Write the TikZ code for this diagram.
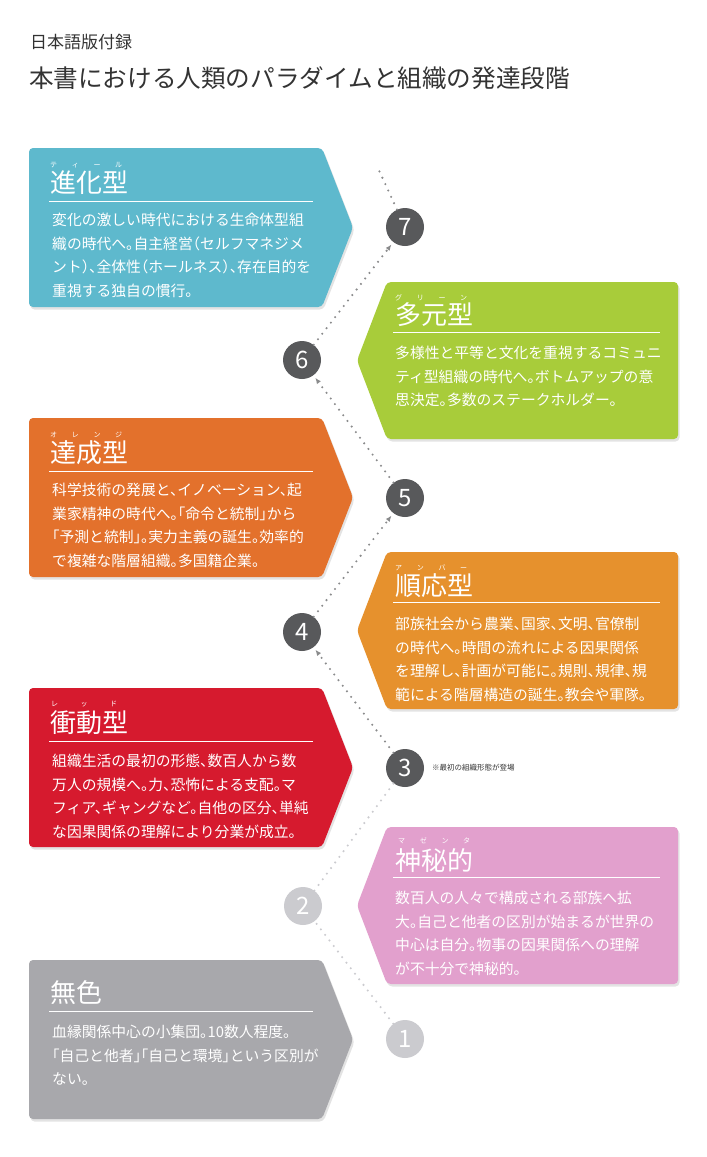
\documentclass[tikz,border=0pt]{standalone}
\usepackage{fontspec}
\setmainfont{Noto Sans CJK JP}
\newfontfamily\bodyfont[RawFeature=+halt]{Noto Sans CJK JP}
\usetikzlibrary{arrows.meta,shadows}

\definecolor{stageteal}{HTML}{5EB9CD}
\definecolor{stagegreen}{HTML}{A8CC3A}
\definecolor{stageorange}{HTML}{E3712C}
\definecolor{stageamber}{HTML}{E6912D}
\definecolor{stagered}{HTML}{D61A2E}
\definecolor{stagepink}{HTML}{E2A0CD}
\definecolor{stagegray}{HTML}{A8A8AC}
\definecolor{numdark}{HTML}{58595B}
\definecolor{numlight}{HTML}{CBCBCF}
\definecolor{inkgray}{HTML}{333333}

\begin{document}
\begin{tikzpicture}[x=1pt, y=-1pt, every node/.style={inner sep=0pt},
    stagebox/.style={rounded corners=4pt, drop shadow={opacity=0.22, shadow xshift=1.5pt, shadow yshift=-2.5pt}},
    ruby/.style={anchor=west, text=white, font=\fontsize{7}{7}\selectfont},
    head/.style={anchor=west, text=white, font=\fontsize{26}{26}\selectfont},
    body/.style={anchor=north west, align=left, text=white, font=\bodyfont\fontsize{14.8}{23.5}\selectfont},
    headrule/.style={white, line width=1pt},
    num/.style={circle, minimum size=38pt, text=white, font=\fontsize{24}{24}\selectfont},
    link/.style={numdark!70, line width=2.3pt, line cap=round, dash pattern=on 0pt off 7pt},
    linklight/.style={link, numlight}]
    \fill[white] (0,0) rectangle (707,1157);
    \useasboundingbox (0,0) rectangle (707,1157);

    \node[anchor=west, text=inkgray, font=\fontsize{17}{17}\selectfont] (appendix) at (30,42) {日本語版付録};
    \node[anchor=west, text=inkgray, font=\fontsize{24.6}{24.6}\selectfont] (title) at (29,78) {本書における人類のパラダイムと組織の発達段階};

    % stage boxes
    \foreach \t/\c in {148/stageteal, 418/stageorange, 688/stagered, 960/stagegray}
        \path[stagebox, fill=\c] (29,\t) -- (322,\t) -- (353,\t+79.5) -- (322,\t+159) -- (29,\t+159) -- cycle;
    \foreach \t/\c in {282/stagegreen, 552/stageamber, 827/stagepink}
        \path[stagebox, fill=\c] (387,\t) -- (678,\t) -- (678,\t+157) -- (387,\t+157) -- (357,\t+78.5) -- cycle;
    \foreach \y in {201,471,741,1011}
        \draw[headrule] (49,\y) -- (313,\y);
    \foreach \y in {332,602,877}
        \draw[headrule] (393,\y) -- (660,\y);

    \node[ruby] (tealruby) at (50,165) {\hbox to 72pt{テ\hfil ィ\hfil ー\hfil ル}};
    \node[head] (tealhead) at (50,183) {進化型};
    \node[body] (tealbody) at (52,213) {変化の激しい時代における生命体型組\\織の時代へ。自主経営（セルフマネジメ\\ント）、全体性（ホールネス）、存在目的を\\重視する独自の慣行。};

    \node[ruby] (greenruby) at (395,298) {\hbox to 72pt{グ\hfil リ\hfil ー\hfil ン}};
    \node[head] (greenhead) at (395,315) {多元型};
    \node[body] (greenbody) at (395,346) {多様性と平等と文化を重視するコミュニ\\ティ型組織の時代へ。ボトムアップの意\\思決定。多数のステークホルダー。};

    \node[ruby] (orangeruby) at (50,435) {\hbox to 72pt{オ\hfil レ\hfil ン\hfil ジ}};
    \node[head] (orangehead) at (50,453) {達成型};
    \node[body] (orangebody) at (52,483) {科学技術の発展と、イノベーション、起\\業家精神の時代へ。「命令と統制」から\\「予測と統制」。実力主義の誕生。効率的\\で複雑な階層組織。多国籍企業。};

    \node[ruby] (amberruby) at (395,568) {\hbox to 72pt{ア\hfil ン\hfil バ\hfil ー}};
    \node[head] (amberhead) at (395,586) {順応型};
    \node[body] (amberbody) at (395,617) {部族社会から農業、国家、文明、官僚制\\の時代へ。時間の流れによる因果関係\\を理解し、計画が可能に。規則、規律、規\\範による階層構造の誕生。教会や軍隊。};

    \node[ruby] (redruby) at (51,704) {\hbox to 66pt{レ\hfil ッ\hfil ド}};
    \node[head] (redhead) at (50,723) {衝動型};
    \node[body] (redbody) at (52,754) {組織生活の最初の形態、数百人から数\\万人の規模へ。力、恐怖による支配。マ\\フィア、ギャングなど。自他の区分、単純\\な因果関係の理解により分業が成立。};

    \node[ruby] (pinkruby) at (398,841) {\hbox to 72pt{マ\hfil ゼ\hfil ン\hfil タ}};
    \node[head] (pinkhead) at (395,861) {神秘的};
    \node[body] (pinkbody) at (395,891) {数百人の人々で構成される部族へ拡\\大。自己と他者の区別が始まるが世界の\\中心は自分。物事の因果関係への理解\\が不十分で神秘的。};

    \node[head] (grayhead) at (50,993) {無色};
    \node[body] (graybody) at (52,1025) {血縁関係中心の小集団。10数人程度。\\「自己と他者」「自己と環境」という区別が\\ない。};

    % numbered steps
    \foreach \n/\x/\y/\c in {1/405/1039/numlight, 2/303/906/numlight, 3/405/768/numdark, 4/302/632/numdark, 5/405/498/numdark, 6/302/360/numdark, 7/405/227/numdark}
        \node[num, fill=\c] (n\n) at (\x,\y) {\n};
    \node[anchor=west, text=inkgray, font=\fontsize{7.5}{7.5}\selectfont] (note) at (432,768) {※最初の組織形態が登場};

    \draw[linklight] (n1) -- (n2);
    \draw[linklight] (n2) -- (n3);
    \foreach \i/\j in {3/4, 4/5, 5/6, 6/7}
        \draw[link, -{Latex[length=6pt, width=5pt]}, shorten >=3pt] (n\i) -- (n\j);
    \coordinate (beyond) at (377,166);
    \draw[link] (n7) -- (beyond);
\end{tikzpicture}
\end{document}
